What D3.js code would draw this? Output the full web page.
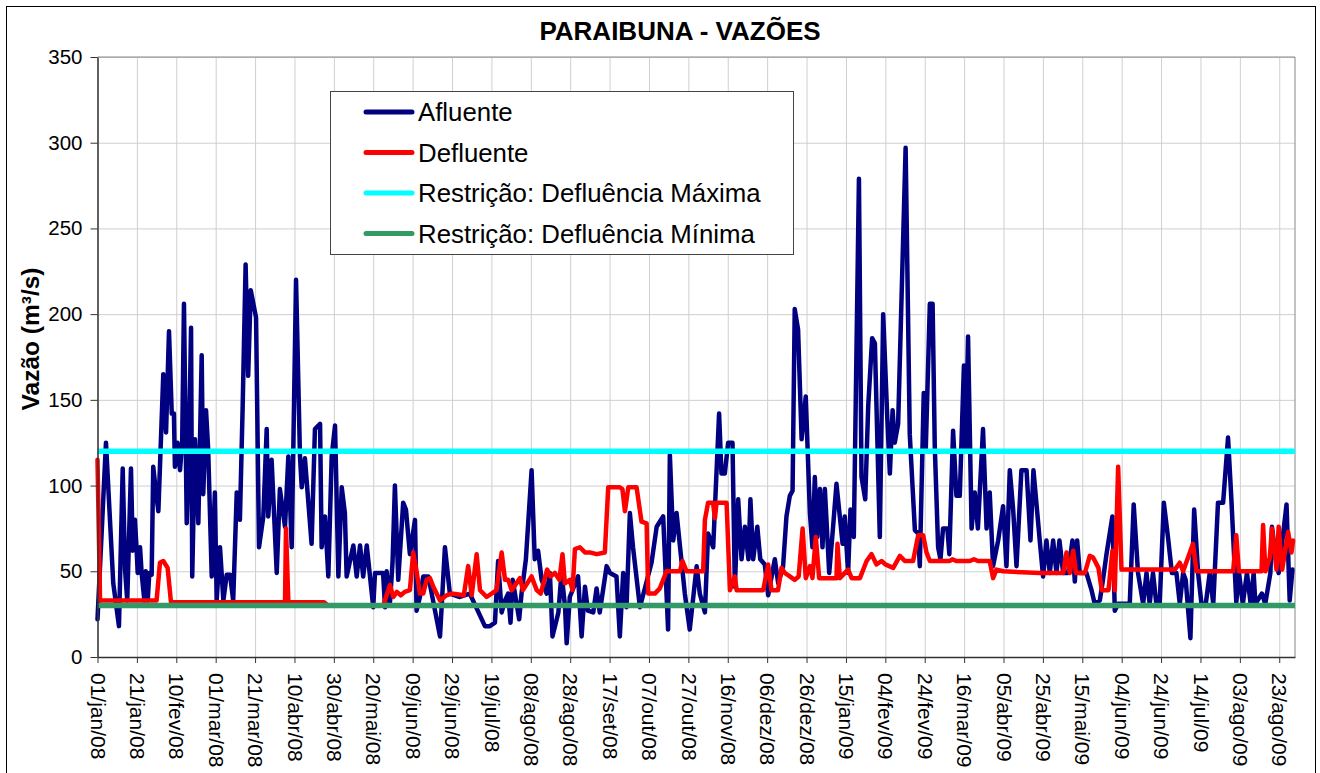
<!DOCTYPE html>
<html>
<head>
<meta charset="utf-8">
<script src="https://cdnjs.cloudflare.com/ajax/libs/d3/7.8.5/d3.min.js"></script>
<style>
  body { margin: 0; background: #fff; }
  text { font-family: "Liberation Sans", Arial, sans-serif; fill: #000; }
</style>
</head>
<body>
<script>
// --- dados ---
const titulo = "PARAIBUNA - VAZÕES";
const tituloY = "Vazão (m³/s)";
const series = ["Afluente", "Defluente", "Restrição: Defluência Máxima", "Restrição: Defluência Mínima"];
const cores = ["#000080", "#ff0000", "#00ffff", "#339966"];
const ticksY = [0, 50, 100, 150, 200, 250, 300, 350];
const rotulosX = ["01/jan/08","21/jan/08","10/fev/08","01/mar/08","21/mar/08","10/abr/08","30/abr/08",
  "20/mai/08","09/jun/08","29/jun/08","19/jul/08","08/ago/08","28/ago/08","17/set/08","07/out/08",
  "27/out/08","16/nov/08","06/dez/08","26/dez/08","15/jan/09","04/fev/09","24/fev/09","16/mar/09",
  "05/abr/09","25/abr/09","15/mai/09","04/jun/09","24/jun/09","14/jul/09","03/ago/09","23/ago/09"];
const meses = ["jan","fev","mar","abr","mai","jun","jul","ago","set","out","nov","dez"];

// [dias desde 01/jan/08, vazão m3/s]
const afluente = [[0,22],[4.3,125],[8,43],[10.9,18],[12.8,110],[14,51],[15.1,33],[17,110],[17.9,62],[19,80],
  [19.9,62],[20.4,49],[21.6,64],[22.4,49],[23.8,33],[24.5,50],[25.5,33],[26.3,49],[27.5,48],[28.3,111],
  [29.7,96],[30.9,85],[33.4,165],[34.8,131],[36.3,190],[37.7,142],[38.8,142],[39.3,111],[40.6,125],[41.9,109],
  [43,126],[43.9,206],[45.3,78],[46.4,120],[47.5,192],[48.1,47],[49.5,127],[51.2,78],[52.9,176],[53.7,95],
  [55.1,144],[56.2,121],[58,47],[59.6,96],[60.5,33],[62.2,64],[63.9,33],[65.6,48],[67.3,48],[68.9,33],
  [70.7,96],[72.3,80],[73.7,146],[75.2,229],[76.5,164],[77.8,214],[80.5,198],[82,64],[84.2,82],[85.9,133],
  [86.7,82],[88.4,115],[91,49],[92.6,98],[95.2,76],[96.9,117],[98.6,64],[100.8,220],[102.8,117],[103.7,99],
  [105.3,116],[108.7,66],[110.4,133],[113,136],[113.8,64],[115.5,82],[117.2,47],[118.9,117],[120.6,135],[122.3,47],
  [124,99],[125.6,84],[126.5,47],[129.9,65],[131.6,47],[133.3,65],[134.9,47],[136.7,65],[140,29],[140.9,49],
  [145,49],[146,29],[146.8,50],[148.5,32],[149.8,55],[151,100],[152.7,45],[155.2,90],[156.6,86],[158.6,60],
  [161.2,80],[162,27],[163.7,35],[165.4,47],[168,47],[173.9,12],[176.4,64],[178.9,37],[184,35],[189,37],
  [196.7,18],[199.2,18],[201.8,20],[203.4,56],[205.2,26],[206.9,33],[208.5,37],[209.7,20],[210.8,45],[214.1,22],
  [215.3,37],[217.5,57],[220.4,109],[222,57],[223.7,62],[225.5,45],[228,37],[229.7,49],[231,12],[234,26],
  [235.6,49],[237.4,29],[238.2,8],[239.8,35],[244,47],[245.8,12],[247.5,41],[249,27],[251.7,26],[253.4,40],
  [255,26],[258.5,53],[260.2,49],[263.5,47],[265.2,12],[266.9,49],[268.6,29],[270.3,84],[271.9,64],[275.4,29],
  [281.3,55],[283.9,76],[287.2,82],[289.7,16],[290.6,118],[292.3,68],[294,84],[298.2,37],[300.7,16],[304.2,53],
  [305.8,37],[308.4,26],[310,72],[312.6,64],[315.6,142],[316.8,107],[318.5,107],[320.2,125],[322.4,125],[323.6,41],
  [325.3,92],[327,57],[328.7,76],[330.5,57],[331.5,92],[332.9,57],[335,76],[336.5,57],[338.8,54],[340.5,36],
  [343.9,57],[345.6,43],[348.1,53],[349.8,82],[351.5,94],[352.9,97],[354,203],[355.7,191],[357.5,127],[359.6,152],
  [361.7,84],[363,64],[364.2,105],[365.4,70],[366.8,98],[368.1,64],[369.3,98],[371.5,49],[373.2,72],[375.2,101],
  [378.3,66],[379.4,82],[381.1,49],[382.3,86],[384,70],[386.6,279],[387.9,105],[389.8,92],[391.3,146],[393.3,186],
  [394.7,183],[397.2,70],[398.9,200],[400.9,142],[402.3,107],[403.7,144],[404.8,125],[406.5,136],[410.3,297],[412.4,130],
  [415,74],[416.7,72],[417.5,53],[419.5,154],[420.5,120],[422.6,206],[424,206],[425.1,123],[426.8,64],[428,57],
  [429.3,75],[431.5,75],[432.5,60],[434.4,132],[436.1,94],[437.8,94],[439.9,170],[440.8,120],[442,187],[443.8,75],
  [445.4,96],[447,75],[449.6,133],[451.4,75],[453,96],[454.7,53],[457.3,68],[459.8,88],[461.5,53],[463.2,109],
  [464.9,86],[466.6,53],[469.1,109],[471.7,109],[473.7,68],[475.2,109],[478.4,68],[480.1,47],[481.8,68],[483.5,49],
  [485.2,68],[486.9,49],[488.4,68],[490.3,49],[492.8,49],[495,68],[496.2,44],[497.4,68],[498.7,49],[502.1,49],
  [504.7,39],[506.3,31],[508.9,33],[510.5,45],[512.3,60],[515.3,82],[516.5,27],[518.2,31],[524.1,31],[526.1,89],
  [528.3,49],[530.9,31],[532.6,49],[534.2,31],[535.9,49],[537.6,31],[539.3,31],[541.4,90],[543.6,69],[545.5,49],
  [547.8,49],[549.5,31],[551.2,49],[552.5,45],[554.9,11],[556.8,86],[558.8,49],[560.5,31],[562.7,31],[564.7,49],
  [566.5,31],[568.9,90],[571.5,90],[574,128],[575.7,92],[578.2,32],[579.6,49],[581.5,31],[583.6,49],[585.5,31],
  [587,49],[587.9,31],[591.2,37],[592.9,31],[595.5,49],[596.3,76],[598,60],[599.7,49],[603.7,89],[605.3,33],
  [606.7,51]];

const defluente = [[0,115],[1.3,33],[30,33],[31.7,55],[33.4,56],[35.6,52],[37.3,32],[95.2,32],[95.7,75],[96.9,32],
  [115,32],[117,30],[145.1,30],[148.5,42],[150.2,35],[152,38],[154,36],[156,38],[158.6,39],[160.3,61],
  [162,50],[163.7,37],[165.4,37],[167.1,45],[168.8,46],[170.5,41],[172.2,37],[173.9,33],[177.2,36],[179.8,37],
  [186,36],[188.2,53],[190,36],[192.5,60],[194.2,39],[197.6,35],[202.6,39],[205.2,61],[206.9,45],[208.5,45],
  [210.3,39],[214.5,46],[216,39],[220.4,47],[223,39],[225,37],[228.3,51],[230,47],[232.2,49],[234.5,45],
  [236.1,60],[237.3,43],[239.8,45],[241.2,39],[242.4,63],[244.9,64],[247.5,61],[250,61],[253.4,60],[257.6,61],
  [259.3,99],[265.2,99],[266.5,98],[267.8,85],[269.5,99],[273.7,99],[276.2,79],[278.8,78],[279.6,37],[283,37],
  [285.5,40],[288.9,50],[295.7,50],[297,56],[299.1,50],[307.5,50],[308.4,80],[310,90],[312.5,90],[313.5,81],
  [314.3,90],[319.4,90],[321.1,39],[323.6,47],[324.5,39],[338,39],[340.5,54],[342.2,39],[345.5,39],[347.3,52],
  [349,49],[351.5,47],[354,45],[356,47],[358,75],[359.6,46],[361.7,53],[363,46],[364.7,70],[366.4,46],
  [375.2,46],[375.7,66],[376.9,46],[381.1,51],[382.9,46],[387.1,46],[390.5,56],[393,60],[395.5,54],[398.1,56],
  [400,54],[404,52],[407.4,59],[409.9,56],[414.1,56],[416.7,71],[419.2,71],[420.9,61],[422.6,56],[432.7,56],
  [434,57],[436,56],[442.9,56],[445,57],[447,56],[453,56],[454.7,46],[456.4,51],[459.8,50],[478.4,49],
  [490.3,49],[492,61],[493.7,49],[495.4,62],[496.8,49],[501.3,49],[503.8,59],[505.5,58],[508.2,52],[509.9,39],
  [513.3,39],[515.3,62],[516.5,39],[518.2,111],[519.9,51],[547,51],[549.5,55],[551.2,50],[556.2,66],[558,50],
  [576.6,50],[578.2,71],[579.5,50],[591,50],[591.8,77],[593,50],[595.2,58],[596.3,75],[598.6,51],[599.7,76],
  [601.5,51],[604.5,73],[606.2,61],[607,68]];

const defluenciaMaxima = 120;
const defluenciaMinima = 30;

// --- layout ---
const width = 1320, height = 773;
const margin = {left: 97.5, right: 25, top: 57, bottom: 116};
const inicio = Date.UTC(2008, 0, 1);
const fim = Date.UTC(2009, 7, 31);
const dia = d => new Date(inicio + d * 864e5);
const parseRotulo = s => {
  const p = s.split("/");
  return new Date(Date.UTC(2000 + (+p[2]), meses.indexOf(p[1]), +p[0]));
};

let svg = d3.select("body").append("svg")
  .attr("width", width)
  .attr("height", height);

svg.append("rect").attr("width", width).attr("height", height).attr("fill", "#fff");
svg.append("rect").attr("x", 6.5).attr("y", 6.5).attr("width", 1309).attr("height", 800)
  .attr("fill", "none").attr("stroke", "#000").attr("stroke-width", 1);

let x = d3.scaleUtc().domain([new Date(inicio), new Date(fim)])
  .range([margin.left, width - margin.right]);
let y = d3.scaleLinear().domain([0, 350])
  .range([height - margin.bottom, margin.top]);

const datasX = rotulosX.map(parseRotulo);

// grade
svg.append("g").attr("transform", "translate(0," + (height - margin.bottom) + ")")
  .call(d3.axisBottom(x).tickValues(datasX).tickSize(-(y(0) - y(350))).tickFormat(""))
  .call(g => g.select(".domain").remove())
  .selectAll("line").attr("stroke", "#cfcfcf");
svg.append("g").attr("transform", "translate(" + margin.left + ",0)")
  .call(d3.axisLeft(y).tickValues(ticksY).tickSize(-(x.range()[1] - x.range()[0])).tickFormat(""))
  .call(g => g.select(".domain").remove())
  .selectAll("line").attr("stroke", "#cfcfcf");

// borda da área
svg.append("line").attr("x1", x.range()[1]).attr("x2", x.range()[1])
  .attr("y1", y(350)).attr("y2", y(0)).attr("stroke", "#888");
svg.append("line").attr("x1", x.range()[0]).attr("x2", x.range()[1])
  .attr("y1", y(350)).attr("y2", y(350)).attr("stroke", "#888");

// linhas
let linha = d3.line().x(d => x(dia(d[0]))).y(d => y(d[1]));
const dados = [
  afluente,
  defluente,
  [[0, defluenciaMaxima], [(fim - inicio) / 864e5, defluenciaMaxima]],
  [[0, defluenciaMinima], [(fim - inicio) / 864e5, defluenciaMinima]]
];
const larguras = [4.5, 4.5, 5.5, 5.5];
svg.append("g").selectAll("path").data(dados).enter()
  .append("path")
  .attr("d", linha)
  .attr("fill", "none")
  .attr("stroke", (d, i) => cores[i])
  .attr("stroke-width", (d, i) => larguras[i])
  .attr("stroke-linejoin", "round")
  .attr("stroke-linecap", (d, i) => i < 2 ? "round" : "butt");

// eixos
let eixoX = svg.append("g").attr("transform", "translate(0," + y(0) + ")")
  .call(d3.axisBottom(x).tickValues(datasX).tickSize(6).tickSizeOuter(0)
    .tickFormat((d, i) => rotulosX[i]));
eixoX.select(".domain").attr("stroke", "#333").attr("stroke-width", 1.5);
eixoX.selectAll("line").attr("stroke", "#333");
eixoX.selectAll("text")
  .attr("font-size", 21)
  .attr("text-anchor", "start")
  .attr("transform", "rotate(90)")
  .attr("x", 16).attr("y", 0).attr("dy", "0.35em");

let eixoY = svg.append("g").attr("transform", "translate(" + margin.left + ",0)")
  .call(d3.axisLeft(y).tickValues(ticksY).tickSize(7).tickSizeOuter(0).tickPadding(8));
eixoY.select(".domain").attr("stroke", "#333").attr("stroke-width", 1.5);
eixoY.selectAll("line").attr("stroke", "#333");
eixoY.selectAll("text").attr("font-size", 20.5);

// titulos
svg.append("text").attr("x", 680).attr("y", 40).attr("text-anchor", "middle")
  .attr("font-size", 26).attr("font-weight", "bold").text(titulo);
svg.append("text").attr("transform", "translate(39,339) rotate(-90)").attr("text-anchor", "middle")
  .attr("font-size", 24.5).attr("font-weight", "bold").text(tituloY);

// legenda
let legenda = svg.append("g").attr("transform", "translate(330,91)");
legenda.append("rect").attr("x", 0.5).attr("y", 0.5).attr("width", 463).attr("height", 163)
  .attr("fill", "#fff").attr("stroke", "#444");
let itens = legenda.selectAll(".item").data(series).enter().append("g")
  .attr("class", "item")
  .attr("transform", (d, i) => "translate(0," + (21 + i * 40.5) + ")");
itens.append("line").attr("x1", 36).attr("x2", 82)
  .attr("stroke", (d, i) => cores[i]).attr("stroke-width", 5).attr("stroke-linecap", "round");
itens.append("text").attr("x", 88).attr("dy", "0.35em").attr("font-size", 25.8).text(d => d);
</script>
</body>
</html>
